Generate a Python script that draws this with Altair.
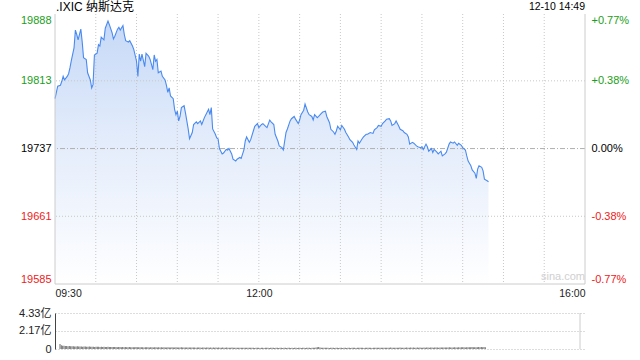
import altair as alt
import pandas as pd

TITLE = ".IXIC 纳斯达克"
STAMP = "12-10 14:49"
WATERMARK = "sina.com"
PRE_CLOSE = 19737
Y_TICKS = [19585, 19661, 19737, 19813, 19888]
PCT_LABELS = ["-0.77%", "-0.38%", "0.00%", "+0.38%", "+0.77%"]
X_TICKS = [0, 150, 390]
X_LABELS = ["09:30", "12:00", "16:00"]
GRID_MINUTES = [30, 60, 90, 120, 150, 180, 210, 240, 270, 300, 330, 360]
H_GRID = [19661, 19813]
VOL_TICKS = [0, 2.17, 4.33]
VOL_LABELS = ["0", "2.17亿", "4.33亿"]

MINUTES = [0, 2, 4, 5, 6, 7, 9, 10, 11, 12, 14, 15, 16, 17, 19, 20, 21, 23, 24, 26,
           27, 28, 29, 31, 32, 33, 34, 36, 37, 39, 40, 42, 43, 44, 46, 47, 48, 50, 51, 52,
           54, 55, 57, 58, 60, 61, 62, 63, 64, 66, 67, 69, 70, 72, 73, 74, 75, 76, 78, 79,
           81, 82, 83, 84, 85, 87, 88, 89, 90, 91, 92, 93, 95, 96, 98, 99, 101, 102, 104, 105,
           107, 108, 110, 111, 113, 114, 115, 116, 118, 119, 120, 121, 123, 124, 126, 127, 128, 130, 131, 133,
           134, 136, 137, 139, 140, 141, 143, 144, 146, 147, 149, 150, 152, 153, 155, 156, 158, 159, 161, 162,
           164, 165, 167, 168, 170, 171, 173, 174, 176, 177, 179, 180, 181, 183, 184, 186, 187, 189, 190, 191,
           193, 194, 196, 197, 199, 200, 202, 203, 205, 206, 207, 208, 210, 211, 213, 214, 216, 217, 219, 220,
           222, 223, 224, 226, 227, 229, 230, 232, 234, 235, 237, 238, 240, 241, 243, 244, 246, 247, 248, 250,
           251, 253, 254, 256, 257, 259, 260, 261, 263, 264, 266, 267, 269, 270, 271, 273, 274, 275, 277, 278,
           279, 281, 282, 284, 285, 287, 288, 290, 291, 293, 294, 296, 297, 299, 300, 302, 303, 304, 306, 307,
           309, 310, 311, 312, 314, 315, 316, 318, 319]
PRICES = [19793, 19807, 19808, 19812.5, 19818, 19814, 19818, 19821, 19827.5, 19835.7, 19850, 19870, 19865, 19859, 19871, 19857, 19839, 19837, 19822, 19814,
          19805, 19809, 19842, 19844, 19853.6, 19852, 19862, 19859, 19872, 19880, 19876, 19867, 19860, 19863, 19871, 19873, 19870, 19875, 19865, 19858,
          19856.6, 19858, 19852, 19848, 19835, 19818, 19843, 19835, 19843, 19829, 19844, 19840.5, 19837, 19825.6, 19842, 19835, 19837, 19822, 19824, 19818,
          19814, 19808, 19800, 19805, 19796, 19793, 19781, 19775, 19779, 19768, 19773, 19783, 19785, 19777, 19759, 19748, 19755, 19764, 19767, 19765,
          19768, 19764, 19772, 19775, 19781, 19775, 19783, 19759, 19753, 19749, 19748, 19737, 19731, 19732, 19736, 19735.4, 19737, 19731, 19725, 19723,
          19725, 19727, 19726, 19735.4, 19745.5, 19750, 19744, 19747, 19757, 19762, 19765, 19760.5, 19764, 19765, 19762, 19760.5, 19769, 19767, 19764, 19753,
          19745.5, 19740, 19738, 19735.4, 19755, 19759, 19768, 19770.5, 19773, 19770, 19765, 19769, 19775, 19780, 19787, 19778, 19775, 19773, 19769, 19775,
          19771.6, 19773, 19776.5, 19778, 19779, 19773, 19766, 19758.6, 19755.6, 19753, 19756.7, 19762, 19758, 19763, 19758.6, 19755, 19750, 19747, 19744, 19741,
          19736, 19745.5, 19743, 19748, 19750, 19753, 19753, 19755, 19754, 19758, 19760.5, 19763, 19762, 19765, 19768, 19770, 19770.5, 19768, 19763, 19765,
          19768, 19762, 19758.6, 19757, 19755, 19753, 19750, 19742, 19744, 19743, 19740, 19739, 19738, 19739, 19736, 19742, 19739, 19734, 19737, 19732.5,
          19736, 19733, 19731, 19734, 19728.7, 19731, 19733, 19742, 19744.4, 19743, 19744.4, 19740.7, 19743, 19740.7, 19738, 19735.4, 19728.7, 19723, 19717.6, 19713,
          19709.4, 19703.5, 19714, 19717.6, 19716, 19712, 19702.7, 19700.8, 19699.7]

# volume per minute, in 0.01 亿
VOLUMES = [60, 45, 40, 38, 36, 35, 34, 36, 33, 32, 34, 31, 30, 32, 29, 30, 31, 28, 29, 30,
           28, 27, 29, 26, 28, 27, 25, 27, 26, 28, 25, 26, 24, 27, 25, 24, 26, 23, 25, 24,
           24, 23, 25, 22, 24, 23, 22, 24, 21, 23, 22, 21, 23, 22, 20, 22, 21, 23, 20, 21,
           22, 20, 21, 19, 22, 20, 21, 19, 20, 22, 19, 20, 21, 18, 20, 19, 21, 18, 20, 19,
           19, 20, 18, 19, 21, 18, 19, 20, 17, 19, 18, 20, 17, 19, 18, 17, 19, 18, 17, 19,
           17, 18, 16, 18, 17, 19, 16, 17, 18, 16, 17, 18, 16, 17, 15, 17, 16, 18, 15, 17,
           16, 15, 17, 16, 15, 17, 14, 16, 15, 17, 14, 16, 15, 14, 16, 15, 14, 16, 15, 14,
           16, 14, 15, 16, 14, 15, 13, 15, 14, 16, 13, 15, 14, 13, 15, 14, 16, 13, 14, 15,
           14, 13, 15, 14, 13, 15, 14, 13, 15, 14, 13, 14, 15, 13, 14, 13, 15, 14, 13, 14,
           15, 13, 14, 16, 13, 15, 14, 15, 13, 14, 16, 15, 17, 20, 24, 18, 15, 14, 16, 15,
           14, 15, 13, 14, 15, 14, 13, 15, 14, 13, 15, 14, 13, 14, 15, 13, 14, 15, 13, 14,
           15, 14, 13, 15, 14, 16, 14, 15, 13, 14, 15, 16, 14, 15, 13, 15, 16, 14, 15, 14,
           16, 15, 14, 16, 15, 14, 16, 15, 17, 14, 16, 15, 14, 16, 15, 17, 15, 16, 14, 16,
           17, 15, 16, 18, 15, 17, 16, 15, 17, 16, 18, 16, 15, 17, 16, 18, 17, 16, 18, 17,
           16, 18, 17, 19, 16, 18, 17, 19, 18, 17, 19, 18, 20, 17, 19, 18, 20, 19, 18, 20,
           19, 21, 20, 22, 19, 21, 20, 22, 21, 23, 22, 20, 22, 21, 23, 22, 24, 21, 23, 20]
VOL_MINUTES = list(range(len(VOLUMES)))

GREEN = "#1a9e1a"
RED = "#f02020"
LINE = "#4a8af0"
FONT = "Liberation Sans, Noto Sans CJK SC, sans-serif"

price_df = pd.DataFrame({"t": MINUTES, "price": PRICES})
vol_df = pd.DataFrame({"t": VOL_MINUTES, "vol": [v / 100 for v in VOLUMES]})

x_scale = alt.Scale(domain=[0, 390], nice=False, zero=False)
y_scale = alt.Scale(domain=[Y_TICKS[0], Y_TICKS[-1]], nice=False, zero=False)

x_axis = alt.Axis(
    values=X_TICKS,
    labelExpr=f"{X_LABELS}[indexof({X_TICKS}, datum.value)]",
    labelAlign={"condition": [{"test": "datum.value == 0", "value": "left"},
                              {"test": "datum.value == 390", "value": "right"}],
                "value": "center"},
    grid=False, ticks=False, domain=False, labelPadding=4,
    labelFontSize=10.5, labelColor="#222", title=None, labelFont=FONT,
)
x_enc = alt.X("t:Q", scale=x_scale, axis=x_axis)

label_color = {"condition": [{"test": f"datum.value > {PRE_CLOSE}", "value": GREEN},
                             {"test": f"datum.value < {PRE_CLOSE}", "value": RED}],
               "value": "#000"}
label_base = {"condition": [{"test": f"datum.value >= {Y_TICKS[-1]}", "value": "top"},
                            {"test": f"datum.value <= {Y_TICKS[0]}", "value": "bottom"}],
              "value": "middle"}

left_axis = alt.Axis(values=Y_TICKS, format="d", grid=False, ticks=False, domain=False,
                     labelPadding=4, labelFontSize=11, labelColor=label_color,
                     labelBaseline=label_base, title=None, labelFont=FONT)
right_axis = alt.Axis(orient="right", values=Y_TICKS,
                      labelExpr=f"{PCT_LABELS}[indexof({Y_TICKS}, datum.value)]",
                      grid=False, ticks=False, domain=False, labelPadding=6,
                      labelFontSize=11, labelColor=label_color, labelBaseline=label_base,
                      title=None, labelFont=FONT)

area = alt.Chart(price_df).mark_area(
    color=alt.Gradient(gradient="linear", x1=1, y1=1, x2=1, y2=0,
                       stops=[alt.GradientStop(color="#ffffff", offset=0),
                              alt.GradientStop(color="#e3ecfb", offset=0.55),
                              alt.GradientStop(color="#c6d9f7", offset=1)]),
    interpolate="linear",
).encode(x=x_enc, y=alt.Y("price:Q", scale=y_scale, axis=left_axis), y2=alt.datum(Y_TICKS[0]))

line = alt.Chart(price_df).mark_line(color=LINE, strokeWidth=1.1).encode(
    x=x_enc, y=alt.Y("price:Q", scale=y_scale, axis=right_axis))

vgrid = alt.Chart(pd.DataFrame({"t": GRID_MINUTES})).mark_rule(
    color="#c8c8c8", strokeDash=[1, 2], strokeWidth=1).encode(x=x_enc)

hgrid = alt.Chart(pd.DataFrame({"price": H_GRID})).mark_rule(
    color="#c8c8c8", strokeDash=[1, 2], strokeWidth=1).encode(
    y=alt.Y("price:Q", scale=y_scale, axis=None))

pre_rule = alt.Chart(pd.DataFrame({"price": [PRE_CLOSE]})).mark_rule(
    color="#b0b0b0", strokeDash=[5, 2, 1, 2], strokeWidth=1).encode(
    y=alt.Y("price:Q", scale=y_scale, axis=None))

vborder = alt.Chart(pd.DataFrame({"t": [0, 390]})).mark_rule(
    color="#cccccc", strokeWidth=1).encode(x=x_enc)
bborder = alt.Chart(pd.DataFrame({"price": [Y_TICKS[0]]})).mark_rule(
    color="#cccccc", strokeWidth=1).encode(y=alt.Y("price:Q", scale=y_scale, axis=None))

title_txt = alt.Chart(pd.DataFrame({"s": [TITLE]})).mark_text(
    align="left", baseline="middle", fontSize=12, font=FONT, color="#000").encode(
    text="s:N", x=alt.value(1), y=alt.value(-7))
stamp_txt = alt.Chart(pd.DataFrame({"s": [STAMP]})).mark_text(
    align="right", baseline="middle", fontSize=10.5, font=FONT, color="#000").encode(
    text="s:N", x=alt.value(530), y=alt.value(-7))
mark_txt = alt.Chart(pd.DataFrame({"s": [WATERMARK]})).mark_text(
    align="center", baseline="middle", fontSize=11, font=FONT, color="#d0d0d0").encode(
    text="s:N", x=alt.value(508), y=alt.value(263))

main = alt.layer(area, vgrid, hgrid, pre_rule, line, vborder, bborder,
                 title_txt, stamp_txt, mark_txt).resolve_scale(y="independent").properties(
    width=530, height=270)

vol_axis = alt.Axis(values=VOL_TICKS,
                    labelExpr=f"{VOL_LABELS}[indexof({VOL_TICKS}, datum.value)]",
                    grid=True, gridDash=[1, 2], gridColor="#bbbbbb", ticks=False,
                    domain=True, domainColor="#444", labelPadding=4, labelFontSize=11,
                    labelColor="#222", title=None, labelFont=FONT, labelBaseline="middle")
vx = alt.X("t:Q", scale=x_scale, axis=None)
vbars = alt.Chart(vol_df).mark_bar(width=1, color="#6e6e6e").encode(
    x=vx, y=alt.Y("vol:Q", scale=alt.Scale(domain=[0, 4.33], nice=False), axis=vol_axis))
vright = alt.Chart(pd.DataFrame({"t": [390]})).mark_rule(color="#cccccc").encode(x=vx)
vol = alt.layer(vbars, vright).properties(width=530, height=36)

chart = alt.vconcat(main, vol, spacing=29, bounds="flush").configure(
    padding={"left": 18, "top": 1, "right": 5, "bottom": 5}
).configure_view(stroke=None)

chart.save("out.html", embed_options={"renderer": "svg", "actions": False})
